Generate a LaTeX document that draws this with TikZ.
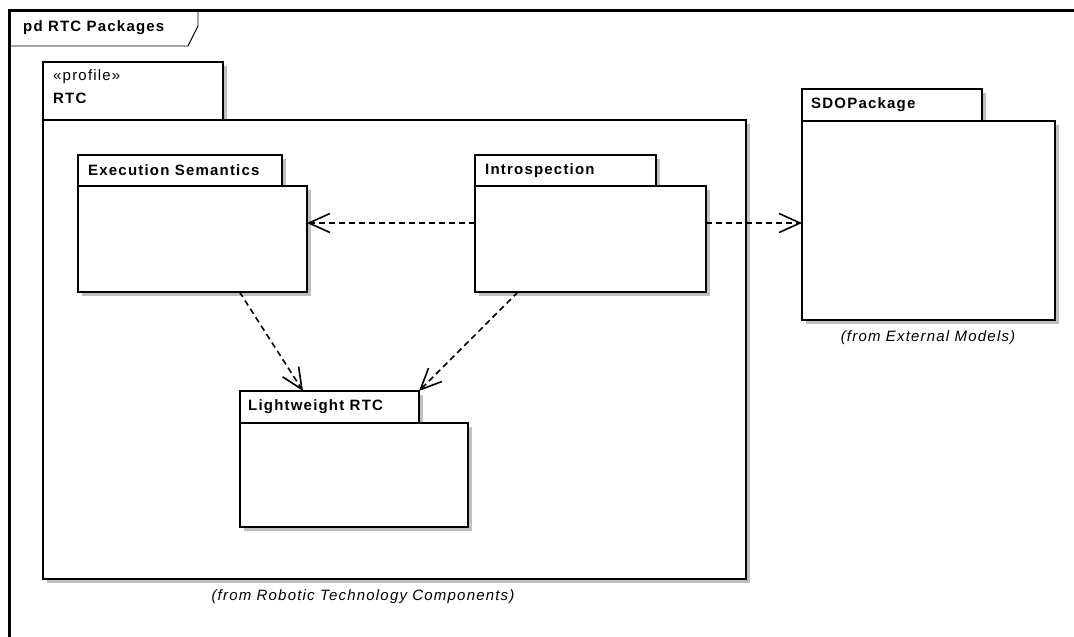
\documentclass[tikz,border=0pt]{standalone}
\usepackage{fontspec}
\setmainfont{Liberation Sans}[LetterSpace=8]
\usetikzlibrary{positioning}
\usetikzlibrary{shadows}
\usetikzlibrary{arrows.meta}

\tikzset{
  pkgtab/.style={draw, fill=white, line width=2pt, inner sep=0pt, outer sep=0pt,
    drop shadow={shadow xshift=4pt, shadow yshift=-4pt, fill=black!25, opacity=1}},
  pkgname/.style={font=\bfseries\fontsize{15}{17}\selectfont, inner sep=0pt, anchor=west},
  fromnote/.style={font=\itshape\fontsize{15}{17}\selectfont, inner sep=0pt},
  dep/.style={dash pattern=on 6pt off 4pt, line width=1.6pt,
    -{Straight Barb[length=21pt,width=19pt]}},
}

\begin{document}
\begin{tikzpicture}[x=1pt,y=-1pt]
  \useasboundingbox (0,0) rectangle (1074,637);
  % diagram frame
  \draw[line width=3pt] (9,637) -- (9,10) -- (1074,10);
  \draw[line width=0.9pt] (9,46) -- (188,46) -- (198,26) -- (198,10);
  \node[pkgname] (title) at (23,28) {pd RTC Packages};

  % RTC profile
  \node[pkgtab, anchor=north west, minimum width=180pt, minimum height=58pt] (rtctab) at (43,62) {};
  \node[pkgtab, below right=0pt and 0pt of rtctab.south west, minimum width=703pt, minimum height=459pt] (rtcbody) {};
  \node[anchor=north west, align=left, inner sep=0pt, font=\fontsize{15}{23}\selectfont,
    below right=7pt and 10pt of rtctab.north west] (rtcname) {«profile»\\\textbf{RTC}};

  % packages inside RTC
  \node[pkgtab, anchor=north west, minimum width=204pt, minimum height=31pt] (estab) at (78,155) {};
  \node[pkgtab, below right=0pt and 0pt of estab.south west, minimum width=229pt, minimum height=106pt] (esbody) {};
  \node[pkgname, right=10pt of estab.west] (esname) {Execution Semantics};

  \node[pkgtab, anchor=north west, minimum width=181pt, minimum height=31pt] (inttab) at (475,155) {};
  \node[pkgtab, below right=0pt and 0pt of inttab.south west, minimum width=231pt, minimum height=106pt] (intbody) {};
  \node[pkgname, right=10pt of inttab.west] (intname) {Introspection};

  \node[pkgtab, anchor=north west, minimum width=179pt, minimum height=32pt] (lwtab) at (240,391) {};
  \node[pkgtab, below right=0pt and 0pt of lwtab.south west, minimum width=228pt, minimum height=104pt] (lwbody) {};
  \node[pkgname, right=8pt of lwtab.west] (lwname) {Lightweight RTC};

  % external package
  \node[pkgtab, anchor=north west, minimum width=180pt, minimum height=32pt] (sdotab) at (802,89) {};
  \node[pkgtab, below right=0pt and 0pt of sdotab.south west, minimum width=253pt, minimum height=199pt] (sdobody) {};
  \node[pkgname, right=9pt of sdotab.west] (sdoname) {SDOPackage};

  % dependencies
  \draw[dep] ([yshift=16pt]intbody.west) -- ([yshift=16pt]esbody.east);
  \draw[dep] ([yshift=16pt]intbody.east) -- ([yshift=16pt]intbody.east -| sdobody.west);
  \draw[dep] ([xshift=47pt]esbody.south) -- ([xshift=63pt]lwtab.north west);
  \draw[dep] ([xshift=43pt]intbody.south west) -- (lwtab.north east);

  \node[fromnote] (sdonote) at (928,338) {(from External Models)};
  \node[fromnote] (rtcnote) at (363,597) {(from Robotic Technology Components)};
\end{tikzpicture}
\end{document}
